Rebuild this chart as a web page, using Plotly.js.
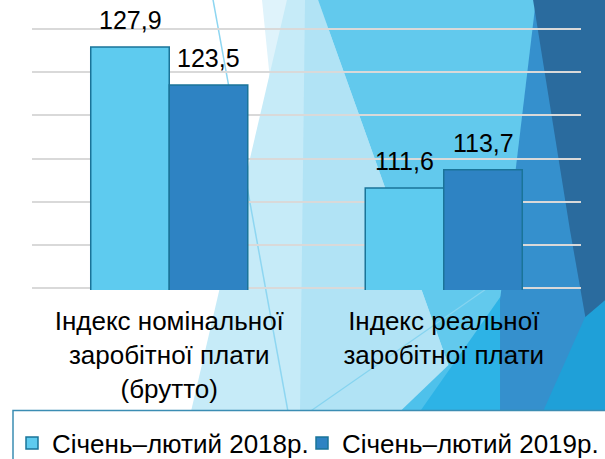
<!DOCTYPE html>
<html><head><meta charset="utf-8">
<script src="https://cdn.plot.ly/plotly-3.0.1.min.js"></script>
<style>html,body{margin:0;padding:0;background:#fff;} #chart{width:605px;height:459px;}</style>
</head><body><div id="chart"></div>
<script>
// ---- data ----
const categories = ["Індекс номінальної<br>заробітної плати<br>(брутто)", "Індекс реальної<br>заробітної плати"];
const seriesNames = ["Січень–лютий 2018р.", "Січень–лютий 2019р."];
const values2018 = [127.9, 111.6];
const values2019 = [123.5, 113.7];
const yTicks = [100, 105, 110, 115, 120, 125, 130];
const yRange = [99.8, 130.2];

// ---- layout constants ----
const W = 605, H = 459;
const M = {l: 32, r: 24, t: 27.3, b: 169.3, autoexpand: false};
const PW = W - M.l - M.r, PH = H - M.t - M.b;
const FONT = '"Liberation Sans", Arial, sans-serif';
const BARGAP = 0.428;
const colors = ['#5ecbef', '#2e83c3'];
const outline = '#1a7499';

function px(x) { return (x - M.l) / PW; }
function py(y) { return (H - M.b - y) / PH; }
function poly(pts) {
  return 'M' + pts.map(p => px(p[0]).toFixed(4) + ',' + py(p[1]).toFixed(4)).join('L') + 'Z';
}

// decorative background (theme triangles), pixel outlines
const bg = [
  ['#dff3fb', [[262,0],[322,0],[292,300]]],
  ['#c6ebf8', [[287,0],[330,0],[310,411],[191,411]]],
  ['#b1e3f5', [[305,0],[318,0],[465,411],[300,411]]],
  ['#62c9ed', [[318,0],[540,0],[505,330],[480,411],[465,411]]],
  ['#4ec1eb', [[400,411],[480,411],[495,320]]],
  ['#2db3e6', [[420,411],[545,411],[505,290]]],
  ['#3590cd', [[536,0],[560,0],[600,330],[545,411],[500,411],[500,300]]],
  ['#2a6b9e', [[533,0],[605,0],[605,300],[587,326],[570,230]]],
  ['#1fa0d8', [[585,317],[605,300],[605,411],[543,411]]]
];
const shapes = bg.map(b => ({type: 'path', xref: 'paper', yref: 'paper', layer: 'below',
  path: poly(b[1]), fillcolor: b[0], line: {width: 0}}));
shapes.push({type: 'line', xref: 'paper', yref: 'paper', layer: 'below',
  x0: px(213), y0: py(0), x1: px(288), y1: py(411), line: {color: '#8ed6f1', width: 1.5}});
shapes.push({type: 'line', xref: 'paper', yref: 'paper', layer: 'below',
  x0: px(310), y0: py(411), x1: px(490), y1: py(286), line: {color: '#86d4f0', width: 1.2}});
shapes.push({type: 'rect', xref: 'paper', yref: 'paper', layer: 'below',
  x0: px(13), y0: py(410), x1: px(615), y1: py(470), fillcolor: '#ffffff',
  line: {color: '#3b8db3', width: 1.5}});

const series = [values2018, values2019];
const legendIds = ['legend', 'legend2'];
const traces = series.map((vals, i) => ({
  type: 'bar', name: seriesNames[i], x: categories, y: vals, legend: legendIds[i],
  marker: {color: colors[i], line: {color: outline, width: 1.5}},
  hoverinfo: 'skip'
}));

// value labels above bars, placed through the axis scales
const barW = (1 - BARGAP) / series.length;
const annotations = [];
series.forEach((vals, i) => {
  vals.forEach((v, j) => {
    annotations.push({xref: 'x', yref: 'y', x: j + (i - (series.length - 1) / 2) * barW, y: v,
      text: v.toFixed(1).replace('.', ','), showarrow: false, yanchor: 'bottom', yshift: 11,
      font: {family: FONT, size: 25, color: '#000'}});
  });
});

const legendBase = {orientation: 'h', xanchor: 'left', y: py(419), yanchor: 'top',
  bgcolor: 'rgba(0,0,0,0)', borderwidth: 0, font: {family: FONT, size: 26, color: '#000'},
  itemwidth: 30};

const layout = {
  width: W, height: H, margin: M,
  paper_bgcolor: '#ffffff', plot_bgcolor: 'rgba(0,0,0,0)',
  font: {family: FONT, color: '#000'},
  separators: ', ',
  barmode: 'group', bargap: BARGAP, bargroupgap: 0,
  xaxis: {type: 'category', automargin: false, showgrid: false, showline: false, zeroline: false, ticks: '',
    tickfont: {family: FONT, size: 26, color: '#000'}, ticklabelstandoff: 13},
  yaxis: {range: yRange, tickvals: yTicks, automargin: false, showticklabels: false, showgrid: true,
    gridcolor: '#d9d9d9', gridwidth: 2, zeroline: false, showline: false, ticks: ''},
  showlegend: true,
  legend: Object.assign({}, legendBase, {x: px(12)}),
  legend2: Object.assign({}, legendBase, {x: px(302)}),
  shapes: shapes,
  annotations: annotations
};

Plotly.newPlot('chart', traces, layout, {displayModeBar: false, staticPlot: true});
</script></body></html>
